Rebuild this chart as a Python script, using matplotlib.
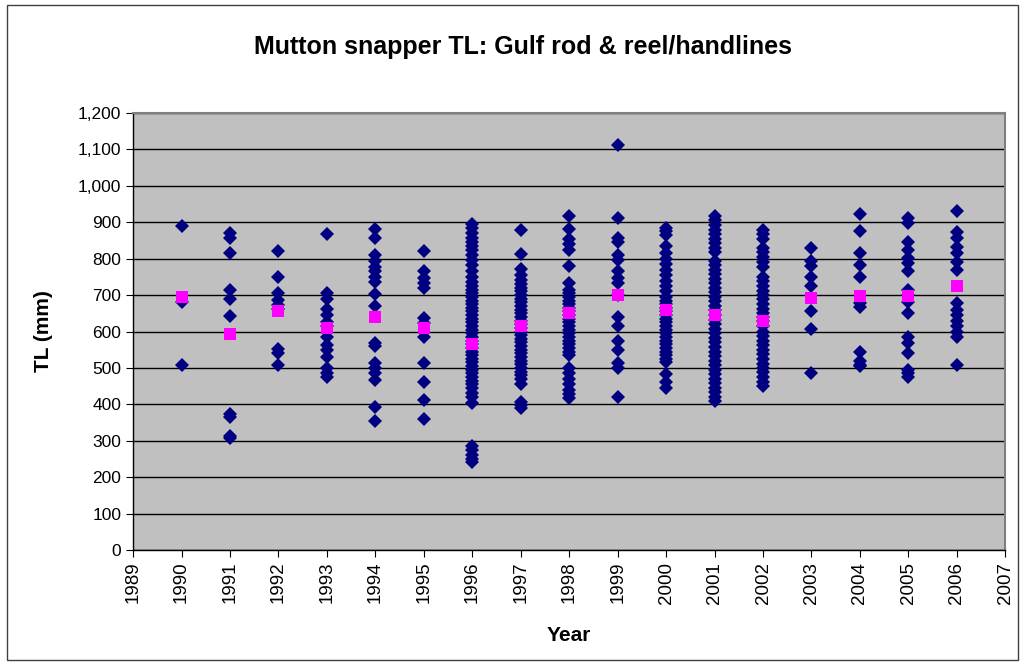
import matplotlib.pyplot as plt
from matplotlib.patches import Rectangle
from matplotlib.ticker import FuncFormatter

plt.rcParams['font.family'] = ['Liberation Sans', 'DejaVu Sans']

# total length (mm) of each fish measured, by year
tl_by_year = {
    1990: [890, 680, 508],
    1991: [870, 856, 817, 714, 689, 644, 374, 364, 313, 309],
    1992: [821, 749, 707, 687, 673, 661, 551, 540, 508],
    1993: [867, 705, 689, 661, 646, 627, 614, 586, 563, 549, 531, 499, 485, 474],
    1994: [882, 856, 810, 795, 778, 765, 751, 737, 703, 670, 568, 559, 513, 499,
           485, 467, 394, 353],
    1995: [821, 765, 747, 733, 720, 636, 623, 586, 513, 462, 412, 359],
    1996: [894, 884, 870, 858, 847, 835, 824, 810, 797, 783, 765, 750, 737, 725,
           715, 705, 695, 685, 675, 665, 655, 645, 635, 625, 615, 605, 595, 585,
           575, 565, 555, 545, 535, 525, 515, 505, 495, 485, 475, 465, 455, 445,
           432, 420, 405, 287, 275, 262, 250, 242],
    1997: [879, 813, 771, 755, 742, 730, 720, 710, 700, 690, 680, 670, 660, 650,
           640, 630, 620, 610, 600, 590, 580, 570, 560, 550, 540, 530, 520, 510,
           500, 490, 480, 470, 455, 407, 398, 390],
    1998: [918, 881, 855, 840, 824, 780, 733, 715, 705, 695, 685, 675, 665, 655,
           645, 635, 625, 615, 605, 595, 585, 575, 565, 555, 545, 535, 500, 485,
           470, 455, 440, 428, 418],
    1999: [1113, 913, 856, 847, 810, 797, 765, 747, 733, 701, 641, 614, 573, 549,
           513, 500, 421],
    2000: [885, 875, 865, 836, 815, 800, 785, 770, 755, 740, 725, 710, 695, 685,
           675, 665, 655, 645, 635, 625, 615, 605, 595, 585, 575, 565, 555, 545,
           535, 525, 515, 483, 462, 445],
    2001: [918, 905, 893, 880, 868, 855, 842, 829, 818, 795, 783, 770, 758, 745,
           733, 720, 708, 695, 683, 670, 658, 645, 633, 620, 608, 595, 583, 570,
           558, 545, 533, 520, 508, 495, 483, 470, 458, 445, 433, 420, 408],
    2002: [880, 868, 855, 830, 818, 805, 790, 778, 750, 738, 725, 712, 700, 688,
           675, 662, 650, 640, 628, 615, 600, 588, 575, 562, 550, 538, 525, 512,
           500, 488, 475, 462, 450],
    2003: [830, 793, 779, 751, 725, 656, 606, 486],
    2004: [923, 875, 817, 783, 749, 678, 668, 545, 518, 509, 504],
    2005: [911, 899, 847, 824, 801, 788, 767, 714, 701, 682, 650, 586, 568, 540,
           495, 487, 476],
    2006: [930, 872, 856, 833, 815, 792, 769, 678, 659, 646, 630, 614, 600, 586,
           508],
}

# yearly mean TL
mean_years = [1990, 1991, 1992, 1993, 1994, 1995, 1996, 1997, 1998,
              1999, 2000, 2001, 2002, 2003, 2004, 2005, 2006]
mean_tl = [696, 592, 657, 610, 641, 609, 566, 615, 650,
           701, 658, 646, 630, 693, 698, 698, 724]

xs, ys = [], []
for yr, vals in tl_by_year.items():
    xs += [yr] * len(vals)
    ys += vals

fig = plt.figure(figsize=(10.25, 6.68), dpi=100)
ax = fig.add_axes([0.1298, 0.1766, 0.8510, 0.6542])
ax.set_facecolor('#C0C0C0')

ax.plot(xs, ys, 'D', color='#000080', markersize=7.5, markeredgewidth=0, zorder=3)
ax.plot(mean_years, mean_tl, 's', color='#FF00FF', markersize=8, markeredgewidth=0, zorder=4)

ax.set_xlim(1989, 2007)
ax.set_ylim(0, 1200)
ax.set_xticks(range(1989, 2008))
ax.set_yticks(range(0, 1201, 100))
ax.yaxis.set_major_formatter(FuncFormatter(lambda v, p: f'{int(v):,}'))
plt.setp(ax.get_xticklabels(), rotation=90)
ax.tick_params(axis='x', labelsize=13.5, length=5, color='black', direction='out')
ax.tick_params(axis='y', labelsize=12.5, length=5, color='black', direction='out')
ax.grid(axis='y', color='black', linewidth=1, zorder=1)

for side in ['top', 'right']:
    ax.spines[side].set_color('#808080')
    ax.spines[side].set_linewidth(1.5)
for side in ['left', 'bottom']:
    ax.spines[side].set_color('black')
    ax.spines[side].set_linewidth(1)

ax.set_xlabel('Year', fontsize=15, fontweight='bold', labelpad=16)
ax.set_ylabel('TL (mm)', fontsize=15, fontweight='bold', labelpad=18)
fig.text(0.51, 0.93, 'Mutton snapper TL: Gulf rod & reel/handlines',
         ha='center', va='center', fontsize=18, fontweight='bold')

# chart border
fig.patches.append(Rectangle((0.007, 0.012), 0.986, 0.98, transform=fig.transFigure,
                             fill=False, edgecolor='#404040', linewidth=1))

fig.savefig('out.png', dpi=100)
